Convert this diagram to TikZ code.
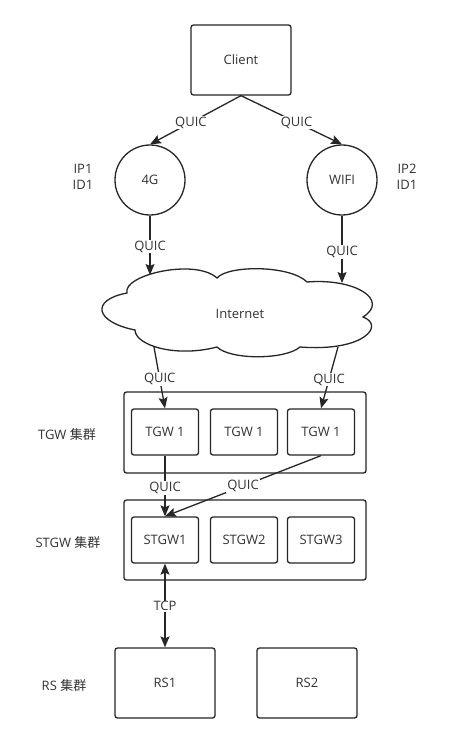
\documentclass[tikz,border=0pt]{standalone}
\usepackage{fontspec}
\setmainfont{Open Sans}
\newfontfamily\cjk{Noto Sans CJK SC}
\usetikzlibrary{arrows.meta}
\definecolor{ln}{HTML}{262626}
\definecolor{tx}{HTML}{333333}
\tikzset{
  base/.style={draw=ln, line width=1.3pt, text=tx, inner sep=0pt, font=\fontsize{13}{15}\selectfont},
  box/.style={base, rectangle, rounded corners=2.5pt},
  circ/.style={base, circle, minimum size=70pt},
  txt/.style={text=tx, inner sep=0pt, font=\fontsize{13}{16}\selectfont, align=center},
  lbl/.style={txt, fill=white, inner sep=1pt},
  conn/.style={draw=ln, line width=1.3pt, -{Stealth[length=11pt,width=9pt,inset=2pt]}},
  conn2/.style={draw=ln, line width=1.3pt, {Stealth[length=11pt,width=9pt,inset=2pt]}-{Stealth[length=11pt,width=9pt,inset=2pt]}}
}
\begin{document}
\begin{tikzpicture}[x=1pt,y=-1pt]
\useasboundingbox (0,0) rectangle (455,743);
\fill[white] (0,0) rectangle (455,743);
% nodes
\node[box, minimum width=100pt, minimum height=70pt] (client) at (241,60) {Client};
\node[circ] (g4) at (150,180) {4G};
\node[circ] (wifi) at (342,180) {WIFI};
\node[txt] (ip1) at (83,177) {IP1\\ID1};
\node[txt] (ip2) at (407,177) {IP2\\ID1};
% cloud
\draw[draw=ln, line width=1.3pt, fill=white]
  (127,293) .. controls (122,275) and (195,258) .. (217,278)
  .. controls (228,265) and (290,265) .. (307,282)
  .. controls (355,278) and (390,300) .. (363,317)
  .. controls (385,325) and (365,352) .. (300,347)
  .. controls (285,360) and (230,360) .. (217,347)
  .. controls (175,358) and (135,345) .. (135,330)
  .. controls (95,322) and (90,300) .. (127,293) -- cycle;
\node[txt] (internet) at (240,314) {Internet};
\coordinate (cl4g) at (150,275);
\coordinate (clwifi) at (342,283);
\coordinate (clL) at (154,347);
\coordinate (clR) at (338,347);
% clusters
\node[box, minimum width=242pt, minimum height=81pt] (tgwc) at (245,432.5) {};
\node[box, minimum width=67pt, minimum height=46pt] (tgw1) at (165,432) {TGW 1};
\node[box, minimum width=67pt, minimum height=46pt] (tgw2) at (244,432) {TGW 1};
\node[box, minimum width=67pt, minimum height=46pt] (tgw3) at (321,432) {TGW 1};
\node[box, minimum width=242pt, minimum height=80pt] (stgwc) at (245,540) {};
\node[box, minimum width=67pt, minimum height=46pt] (stgw1) at (165,540) {STGW1};
\node[box, minimum width=67pt, minimum height=46pt] (stgw2) at (244,540) {STGW2};
\node[box, minimum width=67pt, minimum height=46pt] (stgw3) at (321,540) {STGW3};
\node[box, minimum width=100pt, minimum height=70pt] (rs1) at (165,683) {RS1};
\node[box, minimum width=100pt, minimum height=70pt] (rs2) at (307,683) {RS2};
\node[txt] (tgwl) at (67,435) {TGW {\cjk 集群}};
\node[txt] (stgwl) at (68,543) {STGW {\cjk 集群}};
\node[txt] (rsl) at (64,686) {RS {\cjk 集群}};
% connectors
\draw[conn] (client.south) -- node[lbl, pos=0.55] {QUIC} (g4.north);
\draw[conn] (client.south) -- node[lbl, pos=0.55] {QUIC} (wifi.north);
\draw[conn] (g4.south) -- node[lbl, pos=0.52] {QUIC} (cl4g);
\draw[conn] (wifi.south) -- node[lbl, pos=0.54] {QUIC} (clwifi);
\draw[conn] (clL) -- node[lbl, pos=0.52] {QUIC} (tgw1.north);
\draw[conn] (clR) -- node[lbl, pos=0.53] {QUIC} (tgw3.north);
\draw[conn] (tgw1.south) -- node[lbl, pos=0.53] {QUIC} (stgw1.north);
\draw[conn] (tgw3.south) -- node[lbl, pos=0.5] {QUIC} (stgw1.north);
\draw[conn2] (stgw1.south) -- node[lbl, pos=0.51] {TCP} (rs1.north);
\end{tikzpicture}
\end{document}
